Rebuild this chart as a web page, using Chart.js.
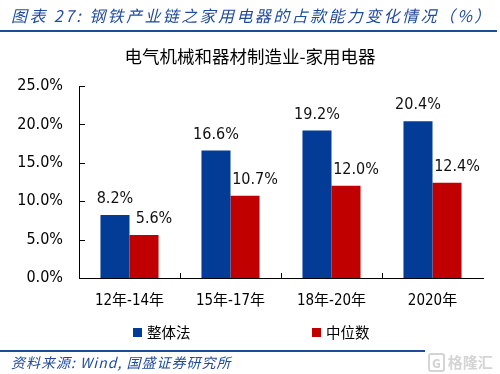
<!DOCTYPE html>
<html>
<head>
<meta charset="utf-8">
<script src="https://cdn.jsdelivr.net/npm/chart.js@4.4.1/dist/chart.umd.min.js"></script>
<style>
  html, body { margin: 0; padding: 0; background: #fff; }
  #wrap { position: relative; width: 500px; height: 374px; overflow: hidden; }
  #chart { position: absolute; left: 0; top: 0; }
  .hdr {
    position: absolute; left: 11px; top: 3px; white-space: nowrap;
    font: italic 16px 'Noto Sans CJK SC', sans-serif; color: #1F4A9A; letter-spacing: 2.4px;
  }
  .rule { position: absolute; left: 0; background: #1F4A9A; }
  .src {
    position: absolute; left: 11px; top: 352px; white-space: nowrap;
    font: italic 14px 'Noto Sans CJK SC', sans-serif; color: #1F4A9A; letter-spacing: 1px;
  }
  .leg { position: absolute; top: 321px; font: 14.5px 'Noto Sans CJK SC', sans-serif; color: #000; white-space: nowrap; }
  .leg i { display: inline-block; width: 9px; height: 9px; margin-right: 5px; vertical-align: 1px; }
  .wm { position: absolute; left: 428px; top: 351px; font: bold 15px 'Noto Sans CJK SC', sans-serif; color: #d4d4d4; white-space: nowrap; }
  .wm b { display: inline-block; border: 2px solid #d4d4d4; border-radius: 3px; padding: 0 2px; font-size: 12px; line-height: 15px; margin-right: 3px; }
</style>
</head>
<body>
<div id="wrap">
  <canvas id="chart" width="500" height="374"></canvas>
  <div class="hdr">图表 27: 钢铁产业链之家用电器的占款能力变化情况（%）</div>
  <div class="rule" style="top:30px; width:497px; height:2px;"></div>
  <div class="leg" id="leg1" style="left:133px;"></div>
  <div class="leg" id="leg2" style="left:312px;"></div>
  <div class="rule" style="top:350px; width:425px; height:1.5px;"></div>
  <div class="src">资料来源: Wind, 国盛证券研究所</div>
  <div class="wm"><b>G</b>格隆汇</div>
</div>
<script>
const chartTitle = '电气机械和器材制造业-家用电器';
const categories = ['12年-14年', '15年-17年', '18年-20年', '2020年'];
const seriesNames = ['整体法', '中位数'];
const overall = [8.2, 16.6, 19.2, 20.4];
const median  = [5.6, 10.7, 12.0, 12.4];
const yTicks  = [0, 5, 10, 15, 20, 25];

const BLUE = '#033C96';
const RED  = '#C00000';
const NUM_FONT = "'DejaVu Sans Condensed', 'DejaVu Sans', 'Noto Sans CJK SC', sans-serif";

// html legend, from the series names
document.getElementById('leg1').innerHTML = '<i style="background:' + BLUE + '"></i>' + seriesNames[0];
document.getElementById('leg2').innerHTML = '<i style="background:' + RED + '"></i>' + seriesNames[1];

// value labels above the bars (red ones sit a bit to the right like the original)
const valueLabels = {
    id: 'valueLabels',
    afterDatasetsDraw(chart) {
        const ctx = chart.ctx;
        ctx.save();
        ctx.font = '16px ' + NUM_FONT;
        ctx.fillStyle = '#111';
        ctx.textAlign = 'center';
        ctx.textBaseline = 'middle';
        chart.data.datasets.forEach((ds, di) => {
            const meta = chart.getDatasetMeta(di);
            meta.data.forEach((bar, i) => {
                const dx = di === 1 ? 10 : 0;
                ctx.fillText(ds.data[i].toFixed(1) + '%', bar.x + dx, bar.y - 16);
            });
        });
        ctx.restore();
    }
};

// short tick marks pointing into the plot
const innerTicks = {
    id: 'innerTicks',
    afterDraw(chart) {
        const { ctx, chartArea } = chart;
        const x = chart.scales.x, y = chart.scales.y;
        ctx.save();
        ctx.strokeStyle = '#000';
        ctx.lineWidth = 1;
        ctx.beginPath();
        y.ticks.forEach(t => {
            const py = Math.round(y.getPixelForValue(t.value)) + 0.5;
            ctx.moveTo(chartArea.left, py);
            ctx.lineTo(chartArea.left + 6, py);
        });
        for (let i = 0; i < x.ticks.length - 1; i++) {
            const px = Math.round((x.getPixelForTick(i) + x.getPixelForTick(i + 1)) / 2) + 0.5;
            ctx.moveTo(px, chartArea.bottom);
            ctx.lineTo(px, chartArea.bottom - 5);
        }
        ctx.stroke();
        ctx.restore();
    }
};

new Chart(document.getElementById('chart').getContext('2d'), {
    type: 'bar',
    data: {
        labels: categories,
        datasets: [
            { label: seriesNames[0], data: overall, backgroundColor: BLUE, categoryPercentage: 0.575, barPercentage: 1.0 },
            { label: seriesNames[1], data: median,  backgroundColor: RED,  categoryPercentage: 0.575, barPercentage: 1.0 },
        ]
    },
    options: {
        responsive: false,
        animation: false,
        layout: { padding: { top: 36, bottom: 50, left: 17, right: 17 } },
        plugins: {
            legend: { display: false },
            tooltip: { enabled: false },
            title: {
                display: true,
                text: chartTitle,
                color: '#000',
                font: { family: "'Noto Sans CJK SC', sans-serif", size: 17.5, weight: 'normal' },
                padding: { top: 10, bottom: 19 }
            }
        },
        scales: {
            x: {
                grid: { display: false, drawTicks: false },
                border: { display: true, color: '#000', width: 1 },
                ticks: { color: '#000', padding: 14, font: { family: NUM_FONT, size: 15 } }
            },
            y: {
                min: 0,
                max: 25,
                afterBuildTicks: (s) => { s.ticks = yTicks.map(v => ({ value: v })); },
                afterFit: (s) => { s.width = 62; },
                grid: { display: false, drawTicks: false },
                border: { display: true, color: '#000', width: 1 },
                ticks: {
                    color: '#000',
                    padding: 16,
                    font: { family: NUM_FONT, size: 16 },
                    callback: (v) => Number(v).toFixed(1) + '%'
                }
            }
        }
    },
    plugins: [valueLabels, innerTicks]
});
</script>
</body>
</html>
